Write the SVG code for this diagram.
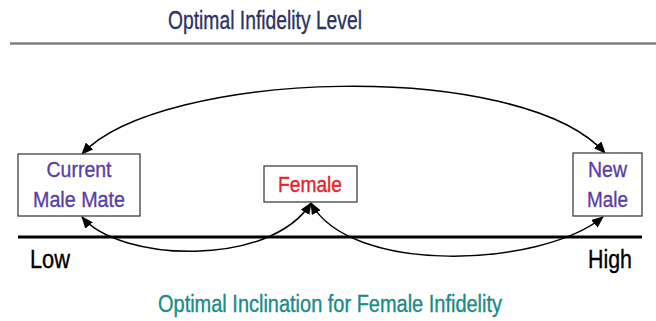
<svg xmlns="http://www.w3.org/2000/svg" width="656" height="321" viewBox="0 0 656 321">
<style>
text{font-family:"Liberation Sans",Arial,sans-serif;stroke-width:0.35}
.box{fill:#fff;stroke:#404040;stroke-width:1.3}
.lbl{fill:#5a3ea0;stroke:#5a3ea0;font-size:22.5px;text-anchor:middle}
.con{fill:none;stroke:#000;stroke-width:1.5}
.ax{font-size:25px;fill:#000;stroke:#000}
</style>
<defs>
<marker id="ah" viewBox="0 0 12 10" refX="11" refY="5" markerWidth="12" markerHeight="10" markerUnits="userSpaceOnUse" orient="auto-start-reverse">
<path d="M0,0 L12,5 L0,10 Z" fill="#000"/>
</marker>
</defs>
<rect width="656" height="321" fill="#fff"/>
<text x="265" y="29" font-size="26.5" fill="#2a3163" stroke="#2a3163" text-anchor="middle" textLength="194" lengthAdjust="spacingAndGlyphs">Optimal Infidelity Level</text>
<line x1="10" y1="43.5" x2="656" y2="43.5" stroke="#808080" stroke-width="2.5"/>
<line x1="18" y1="237" x2="642" y2="237" stroke="#000" stroke-width="3"/>
<g id="connectors">
<path class="con" d="M82,154 C160,70 520,58 605,153" marker-start="url(#ah)" marker-end="url(#ah)"/>
<path class="con" d="M311,203 C270,268 120,262 82,217" marker-start="url(#ah)" marker-end="url(#ah)"/>
<path class="con" d="M311,203 C350,275 540,268 603,217" marker-start="url(#ah)" marker-end="url(#ah)"/>
</g>
<g id="current">
<rect class="box" x="18" y="154" width="122" height="62"/>
<text class="lbl" x="79" y="177" textLength="65" lengthAdjust="spacingAndGlyphs">Current</text>
<text class="lbl" x="79" y="207" textLength="92" lengthAdjust="spacingAndGlyphs">Male Mate</text>
</g>
<g id="female">
<rect class="box" x="264" y="166" width="93" height="36"/>
<text x="310" y="192" font-size="22.5" fill="#e8202a" stroke="#e8202a" text-anchor="middle" textLength="64" lengthAdjust="spacingAndGlyphs">Female</text>
</g>
<g id="newmale">
<rect class="box" x="573" y="153" width="69" height="63"/>
<text class="lbl" x="607.5" y="177" textLength="39" lengthAdjust="spacingAndGlyphs">New</text>
<text class="lbl" x="607.5" y="207" textLength="41" lengthAdjust="spacingAndGlyphs">Male</text>
</g>
<text class="ax" x="30" y="268" textLength="40" lengthAdjust="spacingAndGlyphs">Low</text>
<text class="ax" x="588" y="268" textLength="44" lengthAdjust="spacingAndGlyphs">High</text>
<text x="330" y="312" font-size="23" fill="#1a8a86" stroke="#1a8a86" text-anchor="middle" textLength="344" lengthAdjust="spacingAndGlyphs">Optimal Inclination for Female Infidelity</text>
</svg>
